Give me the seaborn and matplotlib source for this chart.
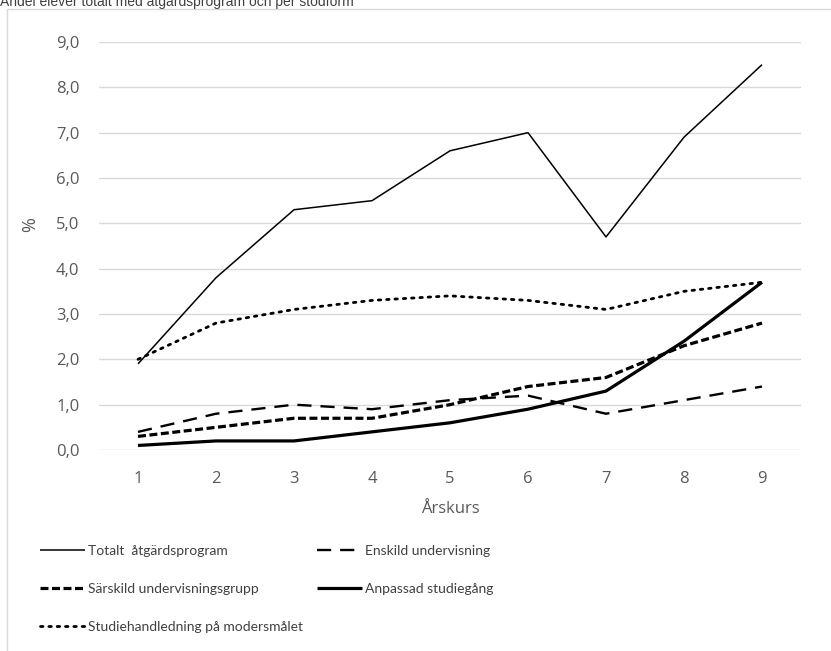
import matplotlib
matplotlib.use("Agg")
import matplotlib.pyplot as plt
from matplotlib import font_manager
from matplotlib.font_manager import FontProperties
from matplotlib.patches import Rectangle
from matplotlib.lines import Line2D
import seaborn as sns
import pandas as pd

# Data: share of pupils (%) per school year
arskurs = [1, 2, 3, 4, 5, 6, 7, 8, 9]
totalt = [1.9, 3.8, 5.3, 5.5, 6.6, 7.0, 4.7, 6.9, 8.5]
enskild = [0.4, 0.8, 1.0, 0.9, 1.1, 1.2, 0.8, 1.1, 1.4]
sarskild = [0.3, 0.5, 0.7, 0.7, 1.0, 1.4, 1.6, 2.3, 2.8]
anpassad = [0.1, 0.2, 0.2, 0.4, 0.6, 0.9, 1.3, 2.4, 3.7]
studiehandledning = [2.0, 2.8, 3.1, 3.3, 3.4, 3.3, 3.1, 3.5, 3.7]
y_ticks = [0, 1, 2, 3, 4, 5, 6, 7, 8, 9]

DOTS = (0, (0.9, 2.1))
series = [
    ("Totalt  åtgärdsprogram", totalt, dict(lw=1.1, ls="-")),
    ("Enskild undervisning", enskild, dict(lw=1.7, ls=(0, (6.0, 3.8)))),
    ("Särskild undervisningsgrupp", sarskild, dict(lw=2.3, ls=(0, (2.5, 1.1)))),
    ("Anpassad studiegång", anpassad, dict(lw=2.3, ls="-")),
    ("Studiehandledning på modersmålet", studiehandledning, dict(lw=2.0, ls=DOTS)),
]

sns.set_theme(style="white")

available = {f.name for f in font_manager.fontManager.ttflist}
tick_font = "Open Sans" if "Open Sans" in available else "DejaVu Sans"
title_font = "Liberation Sans" if "Liberation Sans" in available else "DejaVu Sans"
plt.rcParams["font.family"] = [tick_font, "DejaVu Sans"]

legend_size = 10
legend_prop = FontProperties(family="Lato" if "Lato" in available else tick_font,
                             size=legend_size)

W, H = 831, 651
fig = plt.figure(figsize=(W / 100, H / 100), dpi=100)
fig.patch.set_facecolor("white")

# chart frame
fig.patches.append(Rectangle((7 / W, -0.01), 1.05, 1 - 9 / H + 0.01,
                             transform=fig.transFigure, fill=False,
                             edgecolor="#d9d9d9", lw=1.0, clip_on=False))
fig.text(0, 1 - 6 / H, "Andel elever totalt med åtgärdsprogram och per stödform",
         fontsize=10, color="#404040", va="baseline", ha="left", family=title_font)

ax = fig.add_axes([99 / W, 1 - 450 / H, (801 - 99) / W, (450 - 42) / H])

handles = []
for name, vals, st in series:
    df = pd.DataFrame({"Årskurs": arskurs, "Andel": vals})
    cap = "round" if st["ls"] == DOTS else "butt"
    sns.lineplot(data=df, x="Årskurs", y="Andel", ax=ax, color="black",
                 lw=st["lw"], linestyle=st["ls"], solid_capstyle="butt",
                 dash_capstyle=cap)
    handles.append(Line2D([], [], color="black", lw=st["lw"], linestyle=st["ls"],
                          dash_capstyle=cap, solid_capstyle="butt"))

ax.set_xlim(0.5, 9.5)
ax.set_ylim(0, 9)
ax.set_xticks(arskurs)
ax.set_xticklabels([str(a) for a in arskurs])
ax.set_yticks(y_ticks)
ax.set_yticklabels([f"{v:.1f}".replace(".", ",") for v in y_ticks])
ax.grid(axis="y", color="#d9d9d9", lw=1.0)
ax.set_axisbelow(True)
for s in ax.spines.values():
    s.set_visible(False)
ax.tick_params(axis="both", length=0, labelsize=12, colors="#595959")
ax.tick_params(axis="y", pad=14)
ax.tick_params(axis="x", pad=15)
ax.set_xlabel("Årskurs", fontsize=12, color="#595959", labelpad=10)
ax.set_ylabel("")
fig.text(30 / W, 1 - 225 / H, "%", rotation=90, fontsize=13, color="#595959",
         ha="center", va="center")

# legend in two columns, filled column by column
fs_px = legend_size * 100 / 72
order = [0, 2, 4, 1, 3]
leg = fig.legend([handles[i] for i in order], [series[i][0] for i in order],
                 ncol=2, loc="upper left",
                 bbox_to_anchor=(40 / W, 1 - (553 - fs_px * 0.6) / H),
                 frameon=False, handlelength=45 / fs_px, handletextpad=3 / fs_px,
                 columnspacing=14 / fs_px, labelspacing=(40 - fs_px) / fs_px,
                 borderpad=0, borderaxespad=0, prop=legend_prop)
for t in leg.get_texts():
    t.set_color("#404040")

fig.savefig("out.png", dpi=100)
